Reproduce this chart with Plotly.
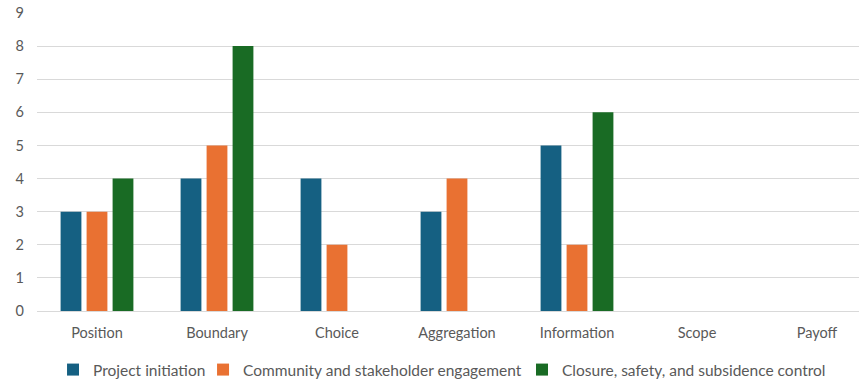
import plotly.graph_objects as go

categories = ["Position", "Boundary", "Choice", "Aggregation", "Information", "Scope", "Payoff"]
project_initiation = [3, 4, 4, 3, 5, 0, 0]
community_engagement = [3, 5, 2, 4, 2, 0, 0]
closure_safety = [4, 8, 0, 0, 6, 0, 0]
series_names = ["Project initiation", "Community and stakeholder engagement",
                "Closure, safety, and subsidence control"]
colors = ["#156082", "#E97132", "#196B24"]
legend_ids = ["legend", "legend2", "legend3"]

fig = go.Figure()
for name, vals, col, lg in zip(series_names, [project_initiation, community_engagement, closure_safety], colors, legend_ids):
    fig.add_trace(go.Bar(x=categories, y=vals, name=name, legend=lg,
                         marker=dict(color=col, line=dict(width=0))))

font_family = "Lato, 'Open Sans', sans-serif"
txt = "#595959"
leg_common = dict(orientation="h", y=-0.198, yanchor="middle", xanchor="left",
                  font=dict(size=15.5, color=txt), bgcolor="rgba(0,0,0,0)", borderwidth=0)
fig.update_layout(
    width=859, height=380,
    margin=dict(l=37, r=0, t=13, b=69, autoexpand=False),
    paper_bgcolor="white", plot_bgcolor="white",
    barmode="group", bargap=0.35, bargroupgap=0.2,
    font=dict(family=font_family, size=14.5, color=txt),
    xaxis=dict(range=[-0.5, 6.35], showgrid=False, showline=False, ticks="",
               ticklabelstandoff=11, tickfont=dict(size=14.5, color=txt)),
    yaxis=dict(range=[0, 9], dtick=1, showgrid=True, gridcolor="#D9D9D9", gridwidth=1,
               zeroline=True, zerolinecolor="#D9D9D9", zerolinewidth=1,
               showline=False, ticks="", ticklabelstandoff=12,
               tickfont=dict(size=14.5, color=txt)),
    legend=dict(x=0.0195, **leg_common),
    legend2=dict(x=0.202, **leg_common),
    legend3=dict(x=0.590, **leg_common),
    showlegend=True,
)
fig.write_html("out.html")
